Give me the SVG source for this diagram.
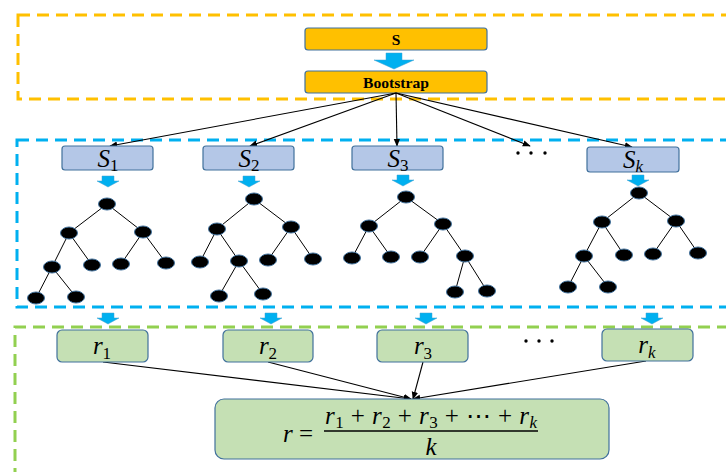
<svg xmlns="http://www.w3.org/2000/svg" width="726" height="472" viewBox="0 0 726 472">
<defs>
<style>
.dash{fill:none;stroke-width:3;stroke-dasharray:12 7}
.ob{fill:#FFC000;stroke:#41719c;stroke-width:1.2}
.sb{fill:#B4C7E7;stroke:#41719c;stroke-width:1.2}
.rb{fill:#C5E0B4;stroke:#41719c;stroke-width:1.2}
.bt{font-family:"Liberation Serif",serif;font-weight:bold;font-size:15.5px;text-anchor:middle}
.m{font-family:"Liberation Serif",serif;font-style:italic;font-size:25px;text-anchor:middle}
.sub{font-style:normal;font-size:17px}
.e{stroke:#000;stroke-width:1;fill:none}
.n{fill:#000;stroke:#41719c;stroke-width:1}
.c{stroke:#000;stroke-width:1.1;fill:none;marker-end:url(#ah)}
.ba{fill:#00B0F0;stroke:#41a0d0;stroke-width:0.5}
</style>
<marker id="ah" viewBox="0 0 10 10" refX="9" refY="5" markerWidth="8" markerHeight="8" orient="auto" markerUnits="userSpaceOnUse">
<path d="M0,1 L10,5 L0,9 Z" fill="#000"/>
</marker>
<path id="sa" d="M-6,0 H6 V5 H11 L0,11 L-11,5 H-6 Z"/>
<g id="dot"><ellipse rx="8.5" ry="6"/></g>
</defs>

<rect class="dash" x="18" y="15" width="720" height="84" stroke="#FFC000"/>
<rect class="dash" x="17" y="140" width="720" height="167" stroke="#00B0F0"/>
<path class="dash" d="M15,480 V327 H740" stroke="#92D050"/>

<g id="S"><rect class="ob" x="305" y="28" width="182" height="22" rx="3"/><text class="bt" x="396" y="45">S</text></g>
<path class="ba" d="M386,53 H402 V60 H414 L394,69 L374,60 H386 Z"/>
<g id="Bootstrap"><rect class="ob" x="305" y="71" width="182" height="22" rx="3"/><text class="bt" x="396" y="88" textLength="66" lengthAdjust="spacingAndGlyphs">Bootstrap</text></g>

<g id="connectors">
<line class="c" x1="396" y1="93" x2="110" y2="146"/>
<line class="c" x1="396" y1="93" x2="250" y2="146"/>
<line class="c" x1="396" y1="93" x2="397" y2="146"/>
<line class="c" x1="396" y1="93" x2="530" y2="146"/>
<line class="c" x1="396" y1="93" x2="632" y2="147"/>
<line class="c" x1="103" y1="362" x2="411" y2="399"/>
<line class="c" x1="268" y1="362" x2="411" y2="399"/>
<line class="c" x1="423" y1="362" x2="413" y2="399"/>
<line class="c" x1="646" y1="361" x2="413" y2="399"/>
</g>

<g id="S1"><rect class="sb" x="62" y="146" width="91" height="24" rx="3"/><text class="m" x="108" y="167">S<tspan class="sub" dy="4">1</tspan></text></g>
<g id="S2"><rect class="sb" x="203" y="146" width="91" height="24" rx="3"/><text class="m" x="249" y="167">S<tspan class="sub" dy="4">2</tspan></text></g>
<g id="S3"><rect class="sb" x="352" y="146" width="91" height="24" rx="3"/><text class="m" x="398" y="167">S<tspan class="sub" dy="4">3</tspan></text></g>
<g id="Sk"><rect class="sb" x="587" y="147" width="92" height="25" rx="3"/><text class="m" x="633" y="168">S<tspan class="sub" dy="4" style="font-style:italic">k</tspan></text></g>
<g id="dots1" fill="#000"><circle cx="518" cy="153" r="1.7"/><circle cx="531" cy="153" r="1.7"/><circle cx="545" cy="153" r="1.7"/></g>

<use href="#sa" class="ba" x="108" y="176"/>
<use href="#sa" class="ba" x="249" y="176"/>
<use href="#sa" class="ba" x="403" y="175"/>
<use href="#sa" class="ba" x="638" y="175"/>

<g id="tree1">
<path class="e" d="M107,204 L69,233 M107,204 L143,232 M69,233 L52,267 M69,233 L92,265 M143,232 L121,264 M143,232 L166,263 M52,267 L36,298 M52,267 L76,297"/>
<g class="n"><use href="#dot" x="107" y="204"/><use href="#dot" x="69" y="233"/><use href="#dot" x="143" y="232"/><use href="#dot" x="52" y="267"/><use href="#dot" x="92" y="265"/><use href="#dot" x="121" y="264"/><use href="#dot" x="166" y="263"/><use href="#dot" x="36" y="298"/><use href="#dot" x="76" y="297"/></g>
</g>
<g id="tree2">
<path class="e" d="M254,199 L217,229 M254,199 L291,227 M217,229 L200,262 M217,229 L239,261 M291,227 L268,260 M291,227 L313,259 M239,261 L219,296 M239,261 L263,294"/>
<g class="n"><use href="#dot" x="254" y="199"/><use href="#dot" x="217" y="229"/><use href="#dot" x="291" y="227"/><use href="#dot" x="200" y="262"/><use href="#dot" x="239" y="261"/><use href="#dot" x="268" y="260"/><use href="#dot" x="313" y="259"/><use href="#dot" x="219" y="296"/><use href="#dot" x="263" y="294"/></g>
</g>
<g id="tree3">
<path class="e" d="M406,197 L369,226 M406,197 L443,224 M369,226 L352,258 M369,226 L391,257 M443,224 L420,257 M443,224 L465,256 M465,256 L455,292 M465,256 L487,291"/>
<g class="n"><use href="#dot" x="406" y="197"/><use href="#dot" x="369" y="226"/><use href="#dot" x="443" y="224"/><use href="#dot" x="352" y="258"/><use href="#dot" x="391" y="257"/><use href="#dot" x="420" y="257"/><use href="#dot" x="465" y="256"/><use href="#dot" x="455" y="292"/><use href="#dot" x="487" y="291"/></g>
</g>
<g id="treek">
<path class="e" d="M639,193 L602,222 M639,193 L676,221 M602,222 L584,256 M602,222 L624,255 M676,221 L653,254 M676,221 L698,253 M584,256 L568,287 M584,256 L608,287"/>
<g class="n"><use href="#dot" x="639" y="193"/><use href="#dot" x="602" y="222"/><use href="#dot" x="676" y="221"/><use href="#dot" x="584" y="256"/><use href="#dot" x="624" y="255"/><use href="#dot" x="653" y="254"/><use href="#dot" x="698" y="253"/><use href="#dot" x="568" y="287"/><use href="#dot" x="608" y="287"/></g>
</g>

<use href="#sa" class="ba" x="108" y="313"/>
<use href="#sa" class="ba" x="271" y="313"/>
<use href="#sa" class="ba" x="426" y="313"/>
<use href="#sa" class="ba" x="652" y="313"/>

<g id="r1"><rect class="rb" x="57" y="330" width="91" height="32" rx="5"/><text class="m" x="102" y="354">r<tspan class="sub" dy="5">1</tspan></text></g>
<g id="r2"><rect class="rb" x="223" y="330" width="90" height="32" rx="5"/><text class="m" x="268" y="354">r<tspan class="sub" dy="5">2</tspan></text></g>
<g id="r3"><rect class="rb" x="377" y="330" width="91" height="32" rx="5"/><text class="m" x="423" y="354">r<tspan class="sub" dy="5">3</tspan></text></g>
<g id="rk"><rect class="rb" x="602" y="329" width="91" height="32" rx="5"/><text class="m" x="647" y="353">r<tspan class="sub" dy="5" style="font-style:italic">k</tspan></text></g>
<g id="dots2" fill="#000"><circle cx="526" cy="341" r="1.7"/><circle cx="539" cy="341" r="1.7"/><circle cx="552" cy="341" r="1.7"/></g>

<g id="formula">
<rect class="rb" x="215" y="399" width="394" height="60" rx="9"/>
<text class="m" x="298" y="442"><tspan>r</tspan><tspan style="font-style:normal"> =</tspan></text>
<line x1="324" y1="431" x2="538" y2="431" stroke="#000" stroke-width="1.4"/>
<text class="m" x="431" y="424" textLength="212" lengthAdjust="spacing">r<tspan class="sub" dy="4">1</tspan><tspan dy="-4" style="font-style:normal"> + </tspan>r<tspan class="sub" dy="4">2</tspan><tspan dy="-4" style="font-style:normal"> + </tspan>r<tspan class="sub" dy="4">3</tspan><tspan dy="-4" style="font-style:normal"> + ⋯ + </tspan>r<tspan class="sub" dy="4" style="font-style:italic">k</tspan></text>
<text class="m" x="431" y="455">k</text>
</g>
</svg>
